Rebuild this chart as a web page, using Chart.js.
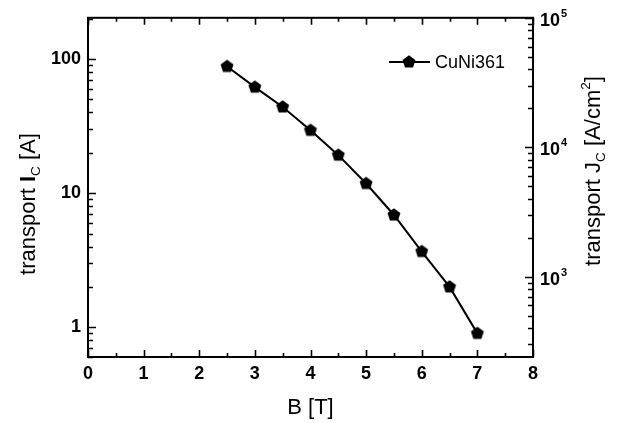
<!DOCTYPE html>
<html>
<head>
<meta charset="utf-8">
<script src="https://cdn.jsdelivr.net/npm/chart.js@4.4.1/dist/chart.umd.min.js"></script>
<style>
  html, body { margin: 0; padding: 0; background: #fff; }
</style>
</head>
<body>
<canvas id="jcChart" width="618" height="423"></canvas>
<script>
// magnetic field B [T] and transport critical current Ic [A]
const fieldB = [2.5, 3.0, 3.5, 4.0, 4.5, 5.0, 5.5, 6.0, 6.5, 7.0];
const currentIc = [88, 61.7, 43.9, 29.4, 19.2, 11.8, 6.87, 3.67, 2.0, 0.90];

const xTicks = [0, 1, 2, 3, 4, 5, 6, 7, 8];
const icTicks = [1, 10, 100];
const jcTicks = [1e3, 1e4, 1e5];

const FONT = "'Liberation Sans', Arial, sans-serif";

// pentagon marker
function makePentagon(r) {
  const size = Math.ceil(r * 2 + 2);
  const c = document.createElement("canvas");
  c.width = size;
  c.height = size;
  const g = c.getContext("2d");
  g.beginPath();
  for (let i = 0; i < 5; i++) {
    const a = -Math.PI / 2 + (i * 2 * Math.PI) / 5;
    const px = size / 2 + r * Math.cos(a);
    const py = size / 2 + r * Math.sin(a);
    if (i === 0) g.moveTo(px, py);
    else g.lineTo(px, py);
  }
  g.closePath();
  g.fillStyle = "#000";
  g.fill();
  return c;
}
const pentagon = makePentagon(6.8);

function logMinorValues(min, max) {
  const out = [];
  for (let e = Math.floor(Math.log10(min)); e <= Math.ceil(Math.log10(max)); e++) {
    for (let m = 1; m <= 9; m++) {
      const v = m * Math.pow(10, e);
      if (v >= min * 0.999 && v <= max * 1.001) out.push({ v: v, major: m === 1 });
    }
  }
  return out;
}

// text with sub/superscript parts, centred on the origin
function drawRich(ctx, parts, size) {
  let total = 0;
  parts.forEach((p) => {
    ctx.font = (p.bold ? "bold " : "") + (p.sub || p.sup ? size * 0.62 : size) + "px " + FONT;
    p.w = ctx.measureText(p.t).width;
    total += p.w;
  });
  let x = -total / 2;
  parts.forEach((p) => {
    ctx.font = (p.bold ? "bold " : "") + (p.sub || p.sup ? size * 0.62 : size) + "px " + FONT;
    let dy = 0;
    if (p.sub) dy = size * 0.22;
    if (p.sup) dy = -size * 0.45;
    ctx.fillText(p.t, x, dy);
    x += p.w;
  });
}

const framePlugin = {
  id: "framePlugin",
  afterDraw(chart) {
    const ctx = chart.ctx;
    const a = chart.chartArea;
    const xs = chart.scales.x;
    const ys = chart.scales.y;
    const y2 = chart.scales.y2;
    ctx.save();
    ctx.strokeStyle = "#000";
    ctx.lineWidth = 2;
    ctx.strokeRect(a.left, a.top, a.right - a.left, a.bottom - a.top);

    ctx.lineWidth = 1.6;
    ctx.beginPath();
    // x ticks, bottom and top, pointing inward
    for (let v = xs.min; v <= xs.max + 1e-9; v += 0.5) {
      const px = Math.round(xs.getPixelForValue(v)) + 0.5;
      const len = Number.isInteger(v) ? 7 : 4;
      ctx.moveTo(px, a.bottom);
      ctx.lineTo(px, a.bottom - len);
      ctx.moveTo(px, a.top);
      ctx.lineTo(px, a.top + len);
    }
    // left log ticks
    logMinorValues(ys.min, ys.max).forEach((t) => {
      const py = Math.round(ys.getPixelForValue(t.v)) + 0.5;
      const len = t.major ? 8 : 5;
      ctx.moveTo(a.left, py);
      ctx.lineTo(a.left + len, py);
    });
    // right log ticks
    logMinorValues(y2.min, y2.max).forEach((t) => {
      const py = Math.round(y2.getPixelForValue(t.v)) + 0.5;
      const len = t.major ? 8 : 5;
      ctx.moveTo(a.right, py);
      ctx.lineTo(a.right - len, py);
    });
    ctx.stroke();

    ctx.fillStyle = "#000";
    // right tick labels with superscript exponent
    jcTicks.forEach((v) => {
      const py = y2.getPixelForValue(v);
      const exp = Math.round(Math.log10(v));
      ctx.font = "bold 18px " + FONT;
      ctx.textAlign = "left";
      ctx.textBaseline = "middle";
      ctx.fillText("10", a.right + 7, py + 3);
      const w = ctx.measureText("10").width;
      ctx.font = "bold 11px " + FONT;
      ctx.fillText(String(exp), a.right + 7 + w + 1, py - 4);
    });

    // axis titles
    ctx.textAlign = "left";
    ctx.textBaseline = "alphabetic";
    ctx.save();
    ctx.translate(35, 204);
    ctx.rotate(-Math.PI / 2);
    drawRich(ctx, [
      { t: "transport " },
      { t: "I", bold: true },
      { t: "C", sub: true },
      { t: " [A]" },
    ], 22);
    ctx.restore();

    ctx.save();
    ctx.translate(600, 171);
    ctx.rotate(-Math.PI / 2);
    drawRich(ctx, [
      { t: "transport J" },
      { t: "C", sub: true },
      { t: " [A/cm" },
      { t: "2", sup: true },
      { t: "]" },
    ], 22);
    ctx.restore();

    ctx.font = "22px " + FONT;
    ctx.textAlign = "center";
    ctx.textBaseline = "middle";
    ctx.fillText("B [T]", (a.left + a.right) / 2, 408);

    // legend
    ctx.lineWidth = 2;
    ctx.beginPath();
    ctx.moveTo(389, 62);
    ctx.lineTo(430, 62);
    ctx.stroke();
    ctx.drawImage(pentagon, 409 - pentagon.width / 2, 62 - pentagon.height / 2);
    ctx.font = "18px " + FONT;
    ctx.textAlign = "left";
    ctx.fillText("CuNi361", 435, 63);
    ctx.restore();
  },
};

const ctx = document.getElementById("jcChart").getContext("2d");

new Chart(ctx, {
  type: "line",
  data: {
    datasets: [
      {
        label: "CuNi361",
        data: fieldB.map((b, i) => ({ x: b, y: currentIc[i] })),
        borderColor: "#000",
        backgroundColor: "#000",
        borderWidth: 2,
        pointStyle: pentagon,
        pointRadius: 7,
        tension: 0,
        yAxisID: "y",
      },
    ],
  },
  options: {
    responsive: false,
    animation: false,
    layout: { padding: { top: 17, left: 0, right: 0, bottom: 0 } },
    plugins: {
      legend: { display: false },
      tooltip: { enabled: false },
    },
    scales: {
      x: {
        type: "linear",
        min: 0,
        max: 8,
        grid: { display: false, drawTicks: false },
        border: { display: false },
        afterBuildTicks: (s) => { s.ticks = xTicks.map((v) => ({ value: v })); },
        afterFit: (s) => { s.height = 66; },
        ticks: {
          padding: 6,
          color: "#000",
          font: { family: FONT, size: 18, weight: "bold" },
        },
      },
      y: {
        type: "logarithmic",
        position: "left",
        min: 0.603,
        max: 203,
        grid: { display: false, drawTicks: false },
        border: { display: false },
        afterBuildTicks: (s) => { s.ticks = icTicks.map((v) => ({ value: v })); },
        afterFit: (s) => { s.width = 88; },
        ticks: {
          padding: 7,
          color: "#000",
          font: { family: FONT, size: 18, weight: "bold" },
          callback: (v) => String(v),
        },
      },
      y2: {
        type: "logarithmic",
        position: "right",
        min: 240,
        max: 1e5,
        grid: { display: false, drawTicks: false },
        border: { display: false },
        afterBuildTicks: (s) => { s.ticks = jcTicks.map((v) => ({ value: v })); },
        afterFit: (s) => { s.width = 85; },
        ticks: { display: false },
      },
    },
  },
  plugins: [framePlugin],
});
</script>
</body>
</html>
